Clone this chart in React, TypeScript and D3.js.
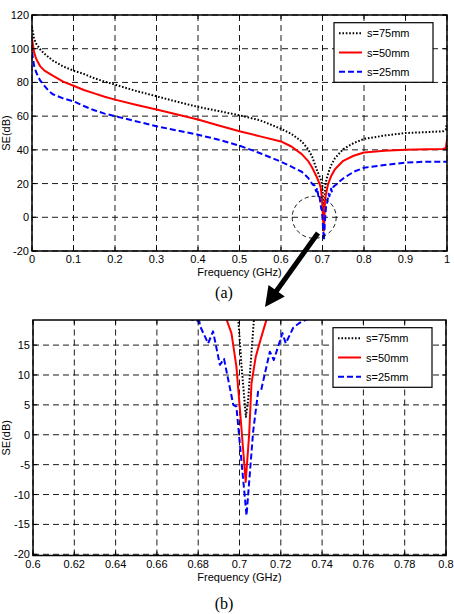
import React from "react";
import * as d3 from "d3";

// ---- data (frequency GHz, SE dB) ----
const s75: [number, number][] = [
  [0, 113], [0.005, 106], [0.01, 103], [0.02, 99.5], [0.03, 97], [0.04, 95], [0.05, 93],
  [0.075, 89.5], [0.1, 87], [0.125, 85], [0.15, 82.5], [0.175, 80.5], [0.2, 78.7],
  [0.25, 75], [0.3, 71.8], [0.35, 68.5], [0.4, 65.5], [0.45, 63], [0.5, 60.5],
  [0.55, 57.5], [0.6, 52.5], [0.625, 49.5], [0.65, 45], [0.665, 40.5], [0.675, 36],
  [0.685, 29], [0.69, 26], [0.695, 23], [0.6994, 19.3], [0.701, 11.4], [0.7031, 3],
  [0.7042, 5.8], [0.7053, 11.4], [0.707, 19.3], [0.71, 23], [0.715, 27], [0.72, 30.5],
  [0.73, 35], [0.75, 40.5], [0.775, 44], [0.8, 46.5], [0.85, 48.5], [0.9, 50],
  [0.95, 50.5], [0.99, 51], [0.997, 52], [1.0, 56],
];
const s50: [number, number][] = [
  [0, 106], [0.005, 98], [0.01, 94], [0.02, 89.5], [0.03, 87], [0.04, 85.5], [0.05, 84],
  [0.075, 80.5], [0.1, 78], [0.125, 75.5], [0.15, 73.5], [0.175, 71.5], [0.2, 69.8],
  [0.25, 66.8], [0.3, 63.9], [0.35, 61], [0.4, 58], [0.45, 54.5], [0.5, 51], [0.55, 48],
  [0.6, 45], [0.625, 42], [0.65, 37.5], [0.665, 33.5], [0.675, 29.5], [0.685, 24.5],
  [0.6937, 19.3], [0.6961, 17], [0.6985, 11.4], [0.7005, 3], [0.703, -7.9], [0.7047, 0.2],
  [0.7058, 8.6], [0.7079, 13.1], [0.7107, 16.5], [0.7131, 19.3], [0.72, 24], [0.73, 28.5],
  [0.75, 33.5], [0.775, 36.5], [0.8, 38.4], [0.85, 39.5], [0.9, 40], [0.95, 40.3],
  [0.99, 40.5], [0.997, 41], [1.0, 46],
];
const s25: [number, number][] = [
  [0, 98], [0.005, 90], [0.01, 86], [0.02, 81], [0.03, 78], [0.04, 75], [0.05, 73],
  [0.075, 70.5], [0.1, 68.8], [0.125, 66], [0.15, 63.5], [0.175, 61.5], [0.2, 60],
  [0.25, 57], [0.3, 54], [0.35, 51.5], [0.4, 49], [0.45, 46], [0.5, 42.5], [0.55, 38],
  [0.6, 33], [0.625, 30], [0.65, 27], [0.665, 23.5], [0.6767, 19.3], [0.6805, 19],
  [0.681, 18.1], [0.6848, 15.3], [0.6872, 17.3], [0.6905, 11.7], [0.6925, 12.7],
  [0.697, 5], [0.6985, 4.7], [0.7034, -13.5], [0.7066, 0.5], [0.709, 7.2], [0.7105, 7.5],
  [0.7147, 13.9], [0.7166, 12.5], [0.7208, 17], [0.7224, 15.3], [0.726, 17.9],
  [0.729, 18.7], [0.7325, 19.3], [0.74, 21], [0.75, 23], [0.775, 27], [0.8, 29.4],
  [0.85, 31], [0.9, 32.4], [0.95, 33], [1.0, 33],
];

const seriesNames = ["s=75mm", "s=50mm", "s=25mm"];
const seriesData = [s75, s50, s25];
const seriesColors = ["#000000", "#ff0000", "#0000ff"];
const seriesDash = ["1.6,1.8", "none", "6,3"];

const xTicksA = [0, 0.1, 0.2, 0.3, 0.4, 0.5, 0.6, 0.7, 0.8, 0.9, 1];
const yTicksA = [-20, 0, 20, 40, 60, 80, 100, 120];
const xTicksB = [0.6, 0.62, 0.64, 0.66, 0.68, 0.7, 0.72, 0.74, 0.76, 0.78, 0.8];
const yTicksB = [-20, -15, -10, -5, 0, 5, 10, 15];

const FONT = "Liberation Sans, Arial, sans-serif";

type PanelProps = {
  id: string;
  left: number; right: number; top: number; bottom: number;
  xDomain: [number, number]; yDomain: [number, number];
  xTicks: number[]; yTicks: number[];
  legend: { x: number; y: number; w: number; h: number };
  children?: (x: d3.ScaleLinear<number, number>, y: d3.ScaleLinear<number, number>) => React.ReactNode;
};

function Panel(p: PanelProps) {
  const x = d3.scaleLinear().domain(p.xDomain).range([p.left, p.right]);
  const y = d3.scaleLinear().domain(p.yDomain).range([p.bottom, p.top]);
  const line = d3.line<[number, number]>().x((d) => x(d[0])).y((d) => y(d[1]));
  const fmt = (v: number) => String(+v.toFixed(2));
  const tl = 4;
  return (
    <g>
      <defs>
        <clipPath id={p.id}>
          <rect x={p.left} y={p.top} width={p.right - p.left} height={p.bottom - p.top} />
        </clipPath>
      </defs>
      {/* grid */}
      {p.xTicks.map((t, i) => (
        <line key={"gx" + i} x1={x(t)} x2={x(t)} y1={p.bottom} y2={p.top} stroke="#000" strokeWidth={0.9} strokeDasharray="6,4" />
      ))}
      {p.yTicks.map((t, i) => (
        <line key={"gy" + i} x1={p.left} x2={p.right} y1={y(t)} y2={y(t)} stroke="#000" strokeWidth={0.9} strokeDasharray="6,4" />
      ))}
      {/* series */}
      <g clipPath={`url(#${p.id})`}>
        {seriesData.map((d, i) => (
          <path key={i} d={line(d) || ""} fill="none" stroke={seriesColors[i]} strokeWidth={2}
            strokeDasharray={seriesDash[i]} strokeLinejoin="round" />
        ))}
        {p.children ? p.children(x, y) : null}
      </g>
      {/* ticks */}
      {p.xTicks.map((t, i) => (
        <g key={"tx" + i}>
          <line x1={x(t)} x2={x(t)} y1={p.bottom} y2={p.bottom - tl} stroke="#000" />
          <line x1={x(t)} x2={x(t)} y1={p.top} y2={p.top + tl} stroke="#000" />
          <text x={x(t)} y={p.bottom + 12} textAnchor="middle" fontSize={11} fontFamily={FONT}>{fmt(t)}</text>
        </g>
      ))}
      {p.yTicks.map((t, i) => (
        <g key={"ty" + i}>
          <line x1={p.left} x2={p.left + tl} y1={y(t)} y2={y(t)} stroke="#000" />
          <line x1={p.right} x2={p.right - tl} y1={y(t)} y2={y(t)} stroke="#000" />
          <text x={p.left - 3} y={y(t) + 4} textAnchor="end" fontSize={11} fontFamily={FONT}>{fmt(t)}</text>
        </g>
      ))}
      <rect x={p.left} y={p.top} width={p.right - p.left} height={p.bottom - p.top} fill="none" stroke="#000" strokeWidth={1.5} />
      {/* axis labels */}
      <text x={(p.left + p.right) / 2} y={p.bottom + 25} textAnchor="middle" fontSize={11} fontFamily={FONT}>Frequency (GHz)</text>
      <text transform={`translate(10,${(p.top + p.bottom) / 2}) rotate(-90)`} textAnchor="middle" fontSize={11} fontFamily={FONT}>SE(dB)</text>
      {/* legend */}
      <rect x={p.legend.x} y={p.legend.y} width={p.legend.w} height={p.legend.h} fill="#fff" stroke="#000" strokeWidth={1.2} />
      {seriesNames.map((n, i) => {
        const ly = p.legend.y + 10.6 + i * 19.2;
        return (
          <g key={"lg" + i}>
            <line x1={p.legend.x + 5} x2={p.legend.x + 28} y1={ly} y2={ly} stroke={seriesColors[i]} strokeWidth={2} strokeDasharray={seriesDash[i]} />
            <text x={p.legend.x + 33} y={ly + 4} fontSize={11} fontFamily={FONT}>{n}</text>
          </g>
        );
      })}
    </g>
  );
}

export default function App() {
  // arrow geometry
  const ax1 = 318, ay1 = 233, ax2 = 265, ay2 = 307;
  const dx = ax2 - ax1, dy = ay2 - ay1, len = Math.hypot(dx, dy);
  const ux = dx / len, uy = dy / len;
  const hl = 20, hw = 10;
  const bx = ax2 - ux * hl, by = ay2 - uy * hl;
  return (
    <svg width={454} height={614} style={{ position: "absolute", left: 0, top: 0, background: "#fff" }}>
      <rect x={0} y={0} width={454} height={614} fill="#fff" />
      <Panel id="clipA" left={32} right={447} top={15} bottom={251}
        xDomain={[0, 1]} yDomain={[-20, 120]} xTicks={xTicksA} yTicks={yTicksA}
        legend={{ x: 334, y: 22.7, w: 99, h: 59.6 }}>
        {(x, y) => (
          <ellipse cx={x(0.68)} cy={y(0)} rx={22} ry={21} fill="none" stroke="#000" strokeWidth={0.9} strokeDasharray="4,3" />
        )}
      </Panel>
      <Panel id="clipB" left={33} right={446} top={320} bottom={555.5}
        xDomain={[0.6, 0.8]} yDomain={[-20.2, 19.2]} xTicks={xTicksB} yTicks={yTicksB}
        legend={{ x: 333, y: 327.7, w: 99, h: 59.6 }} />
      <text x={224} y={298} textAnchor="middle" fontSize={16} fontFamily="Liberation Serif, Times New Roman, serif">(a)</text>
      <text x={224} y={609} textAnchor="middle" fontSize={16} fontFamily="Liberation Serif, Times New Roman, serif">(b)</text>
      <line x1={ax1} y1={ay1} x2={bx + ux * 1} y2={by + uy * 1} stroke="#000" strokeWidth={5} />
      <polygon points={`${ax2},${ay2} ${bx - uy * hw},${by + ux * hw} ${bx + uy * hw},${by - ux * hw}`} fill="#000" />
    </svg>
  );
}
